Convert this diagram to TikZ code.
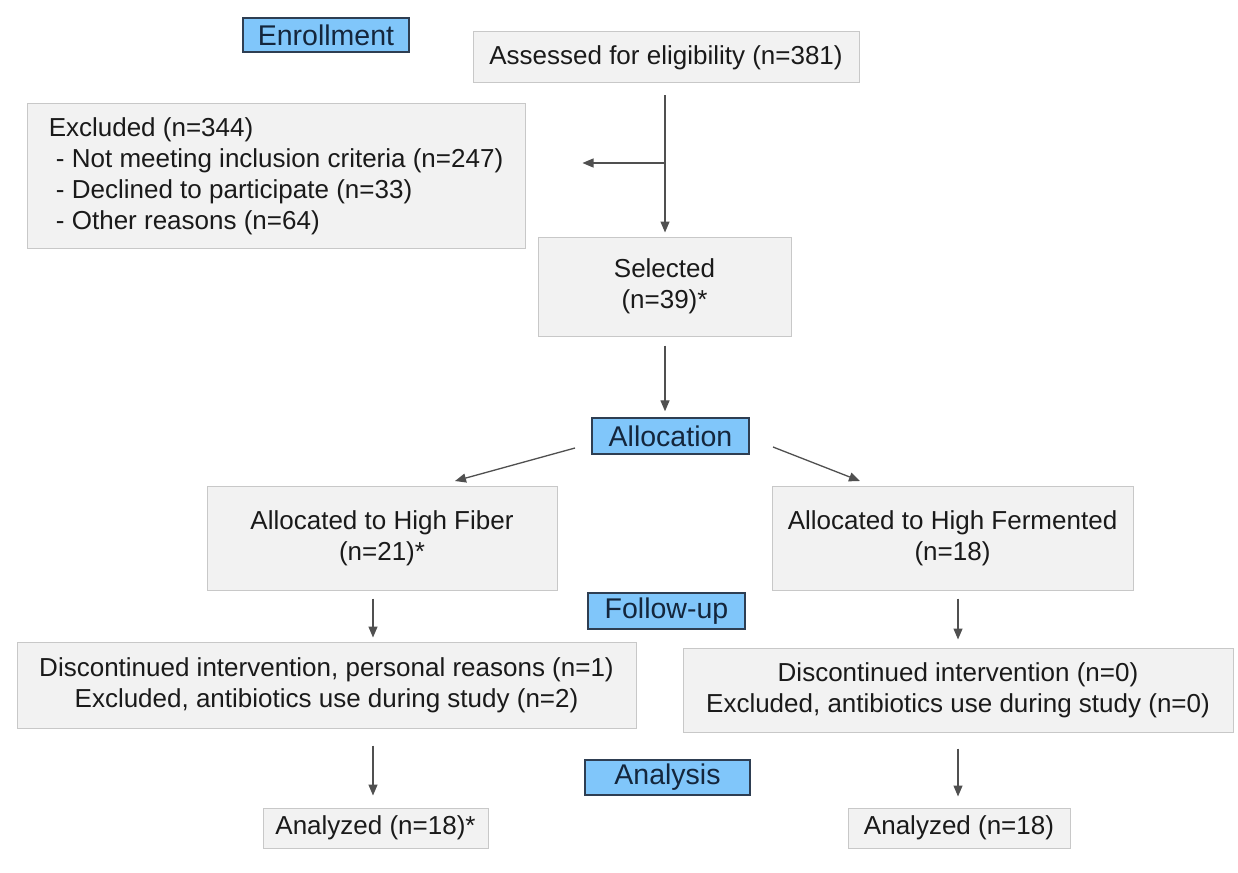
\documentclass[tikz,border=0pt]{standalone}
\usepackage{fontspec}
\setmainfont{Liberation Sans}
\usetikzlibrary{arrows.meta}
\definecolor{boxfill}{HTML}{F2F2F2}
\definecolor{boxline}{HTML}{C8C8C8}
\definecolor{stagefill}{HTML}{80C6FA}
\definecolor{stageline}{HTML}{2E3E52}
\definecolor{stagetext}{HTML}{14263C}
\definecolor{arrcol}{HTML}{505050}
\definecolor{txt}{HTML}{1A1A1A}
\begin{document}
\begin{tikzpicture}[x=1pt,y=-1pt,
  every node/.style={font=\fontsize{26}{31}\selectfont, text=txt},
  graybox/.style={draw=boxline, fill=boxfill, line width=1pt, rectangle, inner sep=0pt, align=center},
  stagebox/.style={draw=stageline, fill=stagefill, line width=1.4pt, rectangle, inner sep=0pt, align=center, text=stagetext, font=\fontsize{28.5}{31}\selectfont},
  arr/.style={draw=arrcol, line width=1.3pt, -{Triangle[length=11pt,width=9pt]}}
]
\useasboundingbox (0,0) rectangle (1238,872);
\fill[white] (0,0) rectangle (1238,872);

\node[stagebox, minimum width=166pt, minimum height=34pt] (enroll) at (326,35) {Enrollment};
\node[graybox, minimum width=386pt, minimum height=51pt] (assessed) at (666,57.5) {Assessed for eligibility (n=381)};
\node[graybox, minimum width=498pt, minimum height=144pt, align=left] (excluded) at (276,176)
  {Excluded (n=344)\\\ - Not meeting inclusion criteria (n=247)\\\ - Declined to participate (n=33)\\\ - Other reasons (n=64)};
\node[graybox, minimum width=253pt, minimum height=99pt] (selected) at (664.5,286.5) {Selected\\(n=39)*};
\node[stagebox, minimum width=157pt, minimum height=36pt] (alloc) at (670.5,436) {Allocation};
\node[graybox, minimum width=350pt, minimum height=104pt] (fiber) at (382,538) {Allocated to High Fiber\\(n=21)*};
\node[graybox, minimum width=361pt, minimum height=104pt] (ferm) at (952.5,538) {Allocated to High Fermented\\(n=18)};
\node[stagebox, minimum width=157pt, minimum height=36pt] (follow) at (666.5,611) {Follow-up};
\node[graybox, minimum width=619pt, minimum height=86pt] (discl) at (326.5,685) {Discontinued intervention, personal reasons (n=1)\\Excluded, antibiotics use during study (n=2)};
\node[graybox, minimum width=550pt, minimum height=84pt] (discr) at (958,690) {Discontinued intervention (n=0)\\Excluded, antibiotics use during study (n=0)};
\node[stagebox, minimum width=165pt, minimum height=35pt] (analysis) at (667.5,777.5) {Analysis};
\node[graybox, minimum width=225pt, minimum height=40pt] (anal) at (375.5,828) {Analyzed (n=18)*};
\node[graybox, minimum width=222pt, minimum height=40pt] (anar) at (959,828) {Analyzed (n=18)};

\coordinate (branch) at (665,163);
\draw[arr, shorten <=12pt, shorten >=4pt] (assessed.south -| branch) -- (selected.north -| branch);
\draw[arr, shorten >=57pt] (branch) -- (excluded.east |- branch);
\draw[arr, shorten <=9pt, shorten >=6pt] (selected.south -| branch) -- (alloc.north -| branch);

\coordinate (a1s) at (575,448);
\coordinate (a1e) at (455,481);
\coordinate (a2s) at (773,447);
\coordinate (a2e) at (860,481);
\draw[arr] (a1s) -- (a1e);
\draw[arr] (a2s) -- (a2e);

\coordinate (lx) at (373,0);
\coordinate (rx) at (958,0);
\draw[arr, shorten <=8pt, shorten >=4pt] (fiber.south -| lx) -- (discl.north -| lx);
\draw[arr, shorten <=8pt, shorten >=8pt] (ferm.south -| rx) -- (discr.north -| rx);
\draw[arr, shorten <=17pt, shorten >=12pt] (discl.south -| lx) -- (anal.north -| lx);
\draw[arr, shorten <=16pt, shorten >=11pt] (discr.south -| rx) -- (anar.north -| rx);
\end{tikzpicture}
\end{document}
